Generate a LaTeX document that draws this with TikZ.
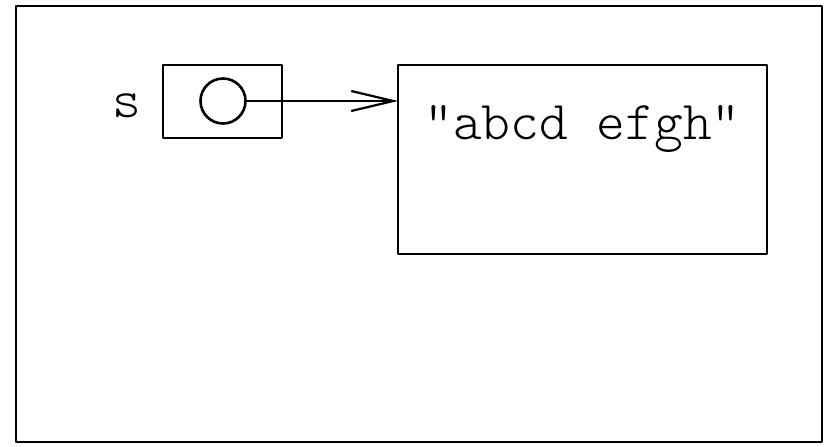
\documentclass[tikz,border=0pt]{standalone}
\usepackage{fontspec}
\setmonofont{Latin Modern Mono Light}
\usetikzlibrary{arrows.meta}
\begin{document}
\begin{tikzpicture}[x=0.5pt, y=-0.5pt, line width=1.1pt, line join=round,
	font=\ttfamily\fontsize{27.4}{31}\selectfont,
	box/.style={draw, rectangle, inner sep=0pt, outer sep=0pt},
	>={Straight Barb[length=21pt, width=10pt]}]
			\useasboundingbox (0,0) rectangle (827,446);
			% frame
			\node[box, line width=1.3pt, minimum width=403pt, minimum height=218pt] (frame) at (419,224) {};
			% the variable
			\node[box, minimum width=59.5pt, minimum height=36.5pt] (var) at (222.5,101.5) {};
			\node[circle, draw, line width=1.3pt, inner sep=0pt, outer sep=0pt, minimum size=22.5pt] (ptr) at (223,101) {};
			\node[anchor=base] (name) at (127,117) {s};
			% the string object
			\node[box, minimum width=184.5pt, minimum height=94.5pt] (str) at (582.5,159.5) {};
			\node[anchor=base] (val) at (582.5,139) {"abcd efgh"};
			\draw[->] (ptr.east) -- (str.west |- ptr.east);
		\end{tikzpicture}
\end{document}
